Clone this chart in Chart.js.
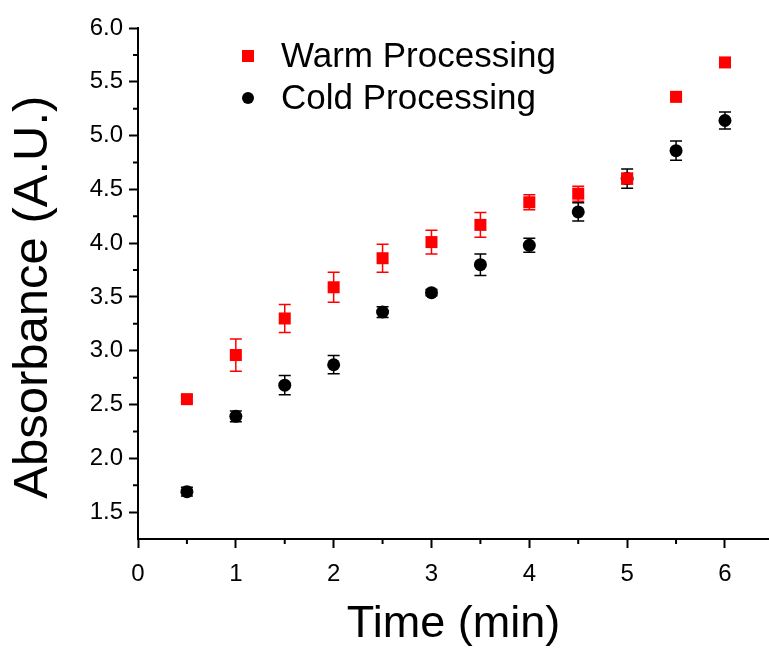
<!DOCTYPE html>
<html>
<head>
<meta charset="utf-8">
<script src="https://cdn.jsdelivr.net/npm/chart.js@4"></script>
<style>
  html, body { margin: 0; padding: 0; background: #fff; }
  #wrap { width: 769px; height: 654px; }
</style>
</head>
<body>
<div id="wrap"><canvas id="absChart"></canvas></div>
<script>
// Absorbance vs time, warm vs cold processing
const times = [0.5, 1, 1.5, 2, 2.5, 3, 3.5, 4, 4.5, 5, 5.5, 6];
const warm = [2.55, 2.96, 3.30, 3.59, 3.86, 4.01, 4.17, 4.38, 4.46, 4.60, 5.36, 5.68];
const warmErr = [0.03, 0.15, 0.13, 0.14, 0.13, 0.11, 0.115, 0.07, 0.07, 0.05, 0.02, 0.02];
const cold = [1.69, 2.39, 2.68, 2.87, 3.36, 3.54, 3.80, 3.98, 4.29, 4.60, 4.86, 5.14];
const coldErr = [0.04, 0.05, 0.09, 0.085, 0.05, 0.03, 0.10, 0.065, 0.085, 0.09, 0.09, 0.08];

const xTicks = [0, 1, 2, 3, 4, 5, 6];
const xMinor = [0.5, 1.5, 2.5, 3.5, 4.5, 5.5];
const yTicks = [1.5, 2.0, 2.5, 3.0, 3.5, 4.0, 4.5, 5.0, 5.5, 6.0];
const yMinor = [1.75, 2.25, 2.75, 3.25, 3.75, 4.25, 4.75, 5.25, 5.75];

const FONT = "'Liberation Sans', Arial, sans-serif";
const errSets = [warmErr, coldErr];

// error bars with caps, drawn under the markers
const errorBars = {
  id: "errorBars",
  beforeDatasetsDraw(chart) {
    const ctx = chart.ctx;
    const x = chart.scales.x;
    const y = chart.scales.y;
    chart.data.datasets.forEach((ds, i) => {
      const errs = errSets[i];
      ctx.save();
      ctx.strokeStyle = ds.borderColor;
      ctx.lineWidth = 1.5;
      ds.data.forEach((p, j) => {
        const px = x.getPixelForValue(p.x);
        const top = y.getPixelForValue(p.y + errs[j]);
        const bot = y.getPixelForValue(p.y - errs[j]);
        ctx.beginPath();
        ctx.moveTo(px, top);
        ctx.lineTo(px, bot);
        ctx.moveTo(px - 6, top);
        ctx.lineTo(px + 6, top);
        ctx.moveTo(px - 6, bot);
        ctx.lineTo(px + 6, bot);
        ctx.stroke();
      });
      ctx.restore();
    });
  },
};

// short minor ticks on both axes
const minorTicks = {
  id: "minorTicks",
  afterDraw(chart) {
    const ctx = chart.ctx;
    const x = chart.scales.x;
    const y = chart.scales.y;
    ctx.save();
    ctx.strokeStyle = "#000";
    ctx.lineWidth = 2;
    ctx.beginPath();
    xMinor.forEach((v) => {
      const px = x.getPixelForValue(v);
      ctx.moveTo(px, x.top);
      ctx.lineTo(px, x.top + 5);
    });
    yMinor.forEach((v) => {
      const py = y.getPixelForValue(v);
      ctx.moveTo(y.right, py);
      ctx.lineTo(y.right - 5, py);
    });
    ctx.stroke();
    ctx.restore();
  },
};

// legend inside the plot, top left
const insideLegend = {
  id: "insideLegend",
  afterDraw(chart) {
    const ctx = chart.ctx;
    const area = chart.chartArea;
    const mx = area.left + 110;
    ctx.save();
    ctx.font = "35px " + FONT;
    ctx.textBaseline = "middle";
    chart.data.datasets.forEach((ds, i) => {
      const my = area.top + 28 + i * 42;
      ctx.fillStyle = ds.backgroundColor;
      if (ds.pointStyle === "rect") {
        ctx.fillRect(mx - 6, my - 6, 12, 12);
      } else {
        ctx.beginPath();
        ctx.arc(mx, my, 6, 0, Math.PI * 2);
        ctx.fill();
      }
      ctx.fillStyle = "#000";
      ctx.fillText(ds.label, mx + 33, my + 1);
    });
    ctx.restore();
  },
};

const ctx = document.getElementById("absChart").getContext("2d");
new Chart(ctx, {
  type: "scatter",
  data: {
    datasets: [
      {
        label: "Warm Processing",
        data: times.map((t, i) => ({ x: t, y: warm[i] })),
        pointStyle: "rect",
        pointRadius: 8.5,
        backgroundColor: "#ff0000",
        borderColor: "#ff0000",
        borderWidth: 0,
      },
      {
        label: "Cold Processing",
        data: times.map((t, i) => ({ x: t, y: cold[i] })),
        pointStyle: "circle",
        pointRadius: 6.5,
        backgroundColor: "#000000",
        borderColor: "#000000",
        borderWidth: 0,
      },
    ],
  },
  options: {
    responsive: true,
    maintainAspectRatio: false,
    animation: false,
    layout: { autoPadding: false, padding: { top: 28, right: 0, left: 0, bottom: 0 } },
    plugins: {
      legend: { display: false },
      tooltip: { enabled: false },
    },
    scales: {
      x: {
        type: "linear",
        min: 0,
        max: 6.45,
        afterBuildTicks: (s) => { s.ticks = xTicks.map((v) => ({ value: v })); },
        afterFit: (s) => { s.height = 115; },
        grid: { drawOnChartArea: false, tickLength: 9, tickWidth: 2, tickColor: "#000" },
        border: { color: "#000", width: 2 },
        ticks: { color: "#000", font: { family: FONT, size: 24 }, padding: 12, maxRotation: 0,
          callback: (v) => String(v) },
        title: { display: true, text: "Time (min)", color: "#000",
          font: { family: FONT, size: 45 }, padding: { top: 0, bottom: 2 } },
      },
      y: {
        min: 1.25,
        max: 6.0,
        afterBuildTicks: (s) => { s.ticks = yTicks.map((v) => ({ value: v })); },
        afterFit: (s) => { s.width = 138; },
        grid: { drawOnChartArea: false, tickLength: 9, tickWidth: 2, tickColor: "#000" },
        border: { color: "#000", width: 2 },
        ticks: { color: "#000", font: { family: FONT, size: 24 }, padding: 6,
          callback: (v) => v.toFixed(1) },
        title: { display: true, text: "Absorbance (A.U.)  ", color: "#000",
          font: { family: FONT, size: 49 }, padding: { top: 4, bottom: 0 } },
      },
    },
  },
  plugins: [errorBars, minorTicks, insideLegend],
});
</script>
</body>
</html>
